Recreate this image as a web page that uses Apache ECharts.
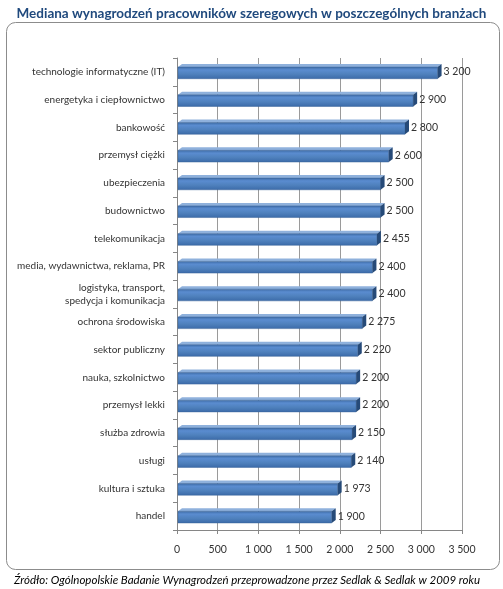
<!DOCTYPE html>
<html>
<head>
<meta charset="utf-8">
<script src="https://cdn.jsdelivr.net/npm/echarts@6/dist/echarts.min.js"></script>
<style>
  html, body { margin: 0; padding: 0; background: #fff; }
  #chart { width: 503px; height: 589px; }
</style>
</head>
<body>
<div id="chart"></div>
<script>
// branze i mediany (PLN)
var categories = [
  'technologie informatyczne (IT)',
  'energetyka i ciepłownictwo',
  'bankowość',
  'przemysł ciężki',
  'ubezpieczenia',
  'budownictwo',
  'telekomunikacja',
  'media, wydawnictwa, reklama, PR',
  'logistyka, transport,\nspedycja i komunikacja',
  'ochrona środowiska',
  'sektor publiczny',
  'nauka, szkolnictwo',
  'przemysł lekki',
  'służba zdrowia',
  'usługi',
  'kultura i sztuka',
  'handel'
];
var values = [3200, 2900, 2800, 2600, 2500, 2500, 2455, 2400, 2400, 2275, 2220, 2200, 2200, 2150, 2140, 1973, 1900];
var ticks = [0, 500, 1000, 1500, 2000, 2500, 3000, 3500];

function fmt(v) {
  return String(v).replace(/\B(?=(\d{3})+(?!\d))/g, ' ');
}

var myChart = echarts.init(document.getElementById('chart'));

var FONT = 'Lato';

// slupek 3d: przod + gora + bok
function renderBar(params, api) {
  var idx = api.value(0);
  var val = api.value(1);
  var start = api.coord([0, idx]);
  var end = api.coord([val, idx]);
  var h = api.size([0, 1])[1] * 0.42;
  var dx = 4, dy = -3;
  var x0 = start[0] + 1, x1 = end[0];
  var yT = start[1] - h / 2 + 1, yB = start[1] + h / 2 + 1;
  return {
    type: 'group',
    children: [
      {
        type: 'polygon',
        shape: { points: [[x0, yT], [x0 + dx, yT + dy], [x1 + dx, yT + dy], [x1, yT]] },
        style: { fill: '#8fb1dc' }
      },
      {
        type: 'rect',
        shape: { x: x0, y: yT, width: x1 - x0, height: h },
        style: {
          fill: new echarts.graphic.LinearGradient(0, 0, 0, 1, [
            { offset: 0, color: '#3d6aa3' },
            { offset: 0.25, color: '#5a8cd0' },
            { offset: 0.6, color: '#4f81bd' },
            { offset: 1, color: '#3b6aa8' }
          ]),
          stroke: '#3a649b',
          lineWidth: 0.5
        }
      },
      {
        type: 'polygon',
        shape: { points: [[x1, yT], [x1 + dx, yT + dy], [x1 + dx, yB + dy], [x1, yB]] },
        style: { fill: '#264a78' }
      },
      {
        type: 'text',
        style: {
          x: x1 + dx + 2, y: start[1],
          text: fmt(val),
          fill: '#333',
          font: '10.5px "' + FONT + '"',
          verticalAlign: 'middle'
        }
      }
    ]
  };
}

var option = {
  backgroundColor: '#fff',
  animation: false,
  title: {
    text: 'Mediana wynagrodzeń pracowników szeregowych w poszczególnych branżach',
    left: 'center',
    top: 2,
    textStyle: { fontFamily: FONT, fontSize: 13.5, fontWeight: 'bold', color: '#1f497d' }
  },
  graphic: [
    {
      type: 'rect',
      left: 4, top: 20,
      shape: { width: 493, height: 547, r: 9 },
      style: { fill: 'none', stroke: '#8c8c8c', lineWidth: 1 },
      silent: true
    },
    {
      type: 'text',
      left: 14, top: 574,
      style: {
        text: 'Źródło: Ogólnopolskie Badanie Wynagrodzeń przeprowadzone przez Sedlak & Sedlak w 2009 roku',
        fill: '#000',
        font: 'italic 11.5px "' + FONT + '"'
      }
    }
  ],
  grid: { left: 177, right: 41, top: 58, bottom: 59 },
  xAxis: {
    type: 'value',
    min: 0,
    max: 3500,
    interval: 500,
    axisLine: { show: true, lineStyle: { color: '#868686' } },
    axisTick: { show: true, length: 4, lineStyle: { color: '#868686' } },
    axisLabel: {
      margin: 14,
      fontFamily: FONT, fontSize: 10.5, color: '#333',
      formatter: function (v) { return ticks.indexOf(v) >= 0 ? fmt(v) : ''; }
    },
    splitLine: { show: true, lineStyle: { color: '#9a9a9a', width: 1 } }
  },
  yAxis: {
    type: 'category',
    inverse: true,
    data: categories,
    axisLine: { show: true, lineStyle: { color: '#868686' } },
    axisTick: { show: true, length: 4, lineStyle: { color: '#868686' } },
    axisLabel: { margin: 12, fontFamily: FONT, fontSize: 10, color: '#333', lineHeight: 13, align: 'right' }
  },
  series: [{
    type: 'custom',
    renderItem: renderBar,
    encode: { x: 1, y: 0 },
    data: values.map(function (v, i) { return [i, v]; })
  }]
};

myChart.setOption(option);
</script>
</body>
</html>
